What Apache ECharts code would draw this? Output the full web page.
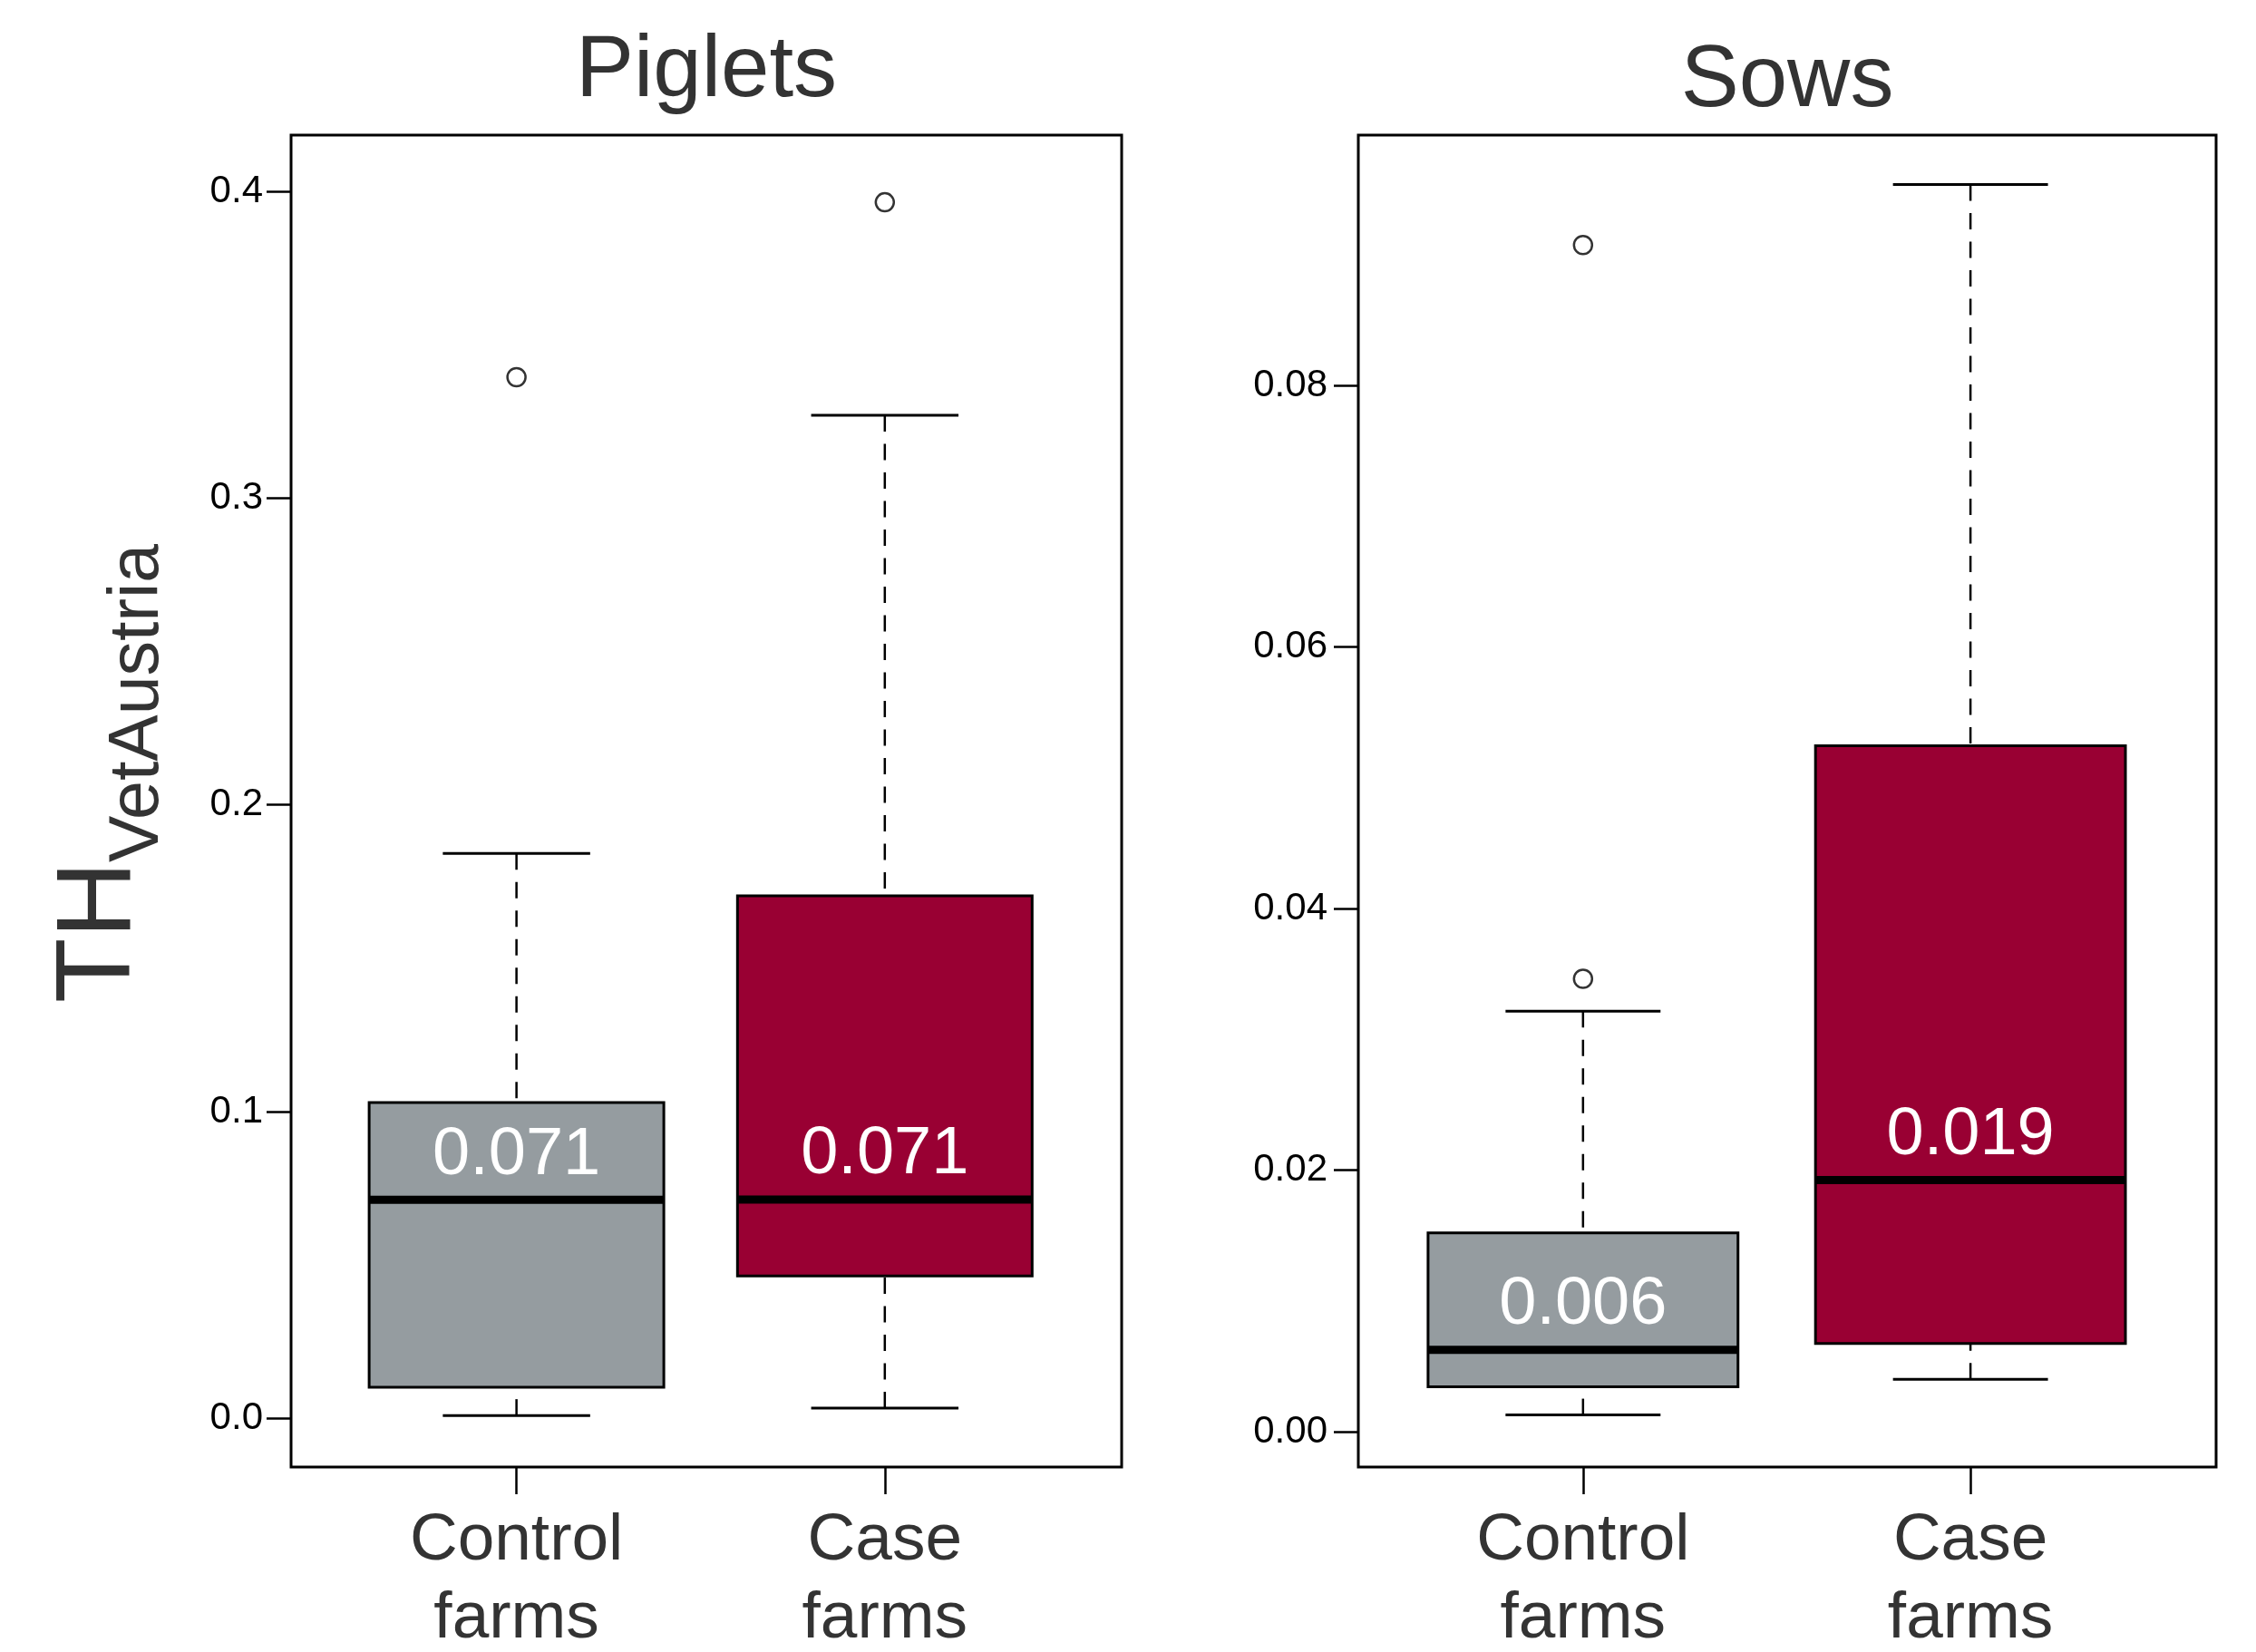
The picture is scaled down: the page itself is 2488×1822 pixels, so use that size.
<!DOCTYPE html>
<html><head><meta charset="utf-8">
<script src="https://cdn.jsdelivr.net/npm/echarts@6/dist/echarts.min.js"></script>
<style>html,body{margin:0;padding:0;background:#fff}#c{width:2488px;height:1822px}</style>
</head><body><div id="c"></div>
<script>
// ---- data ----
const categories = ['Control\nfarms', 'Case\nfarms'];
const categoryPositions = [1, 2];
// [lower whisker, Q1, median, Q3, upper whisker]
const pigletsStats = [
  [0.0010, 0.0102, 0.0713, 0.1030, 0.1842],
  [0.0034, 0.0465, 0.0714, 0.1704, 0.3270]
];
const pigletsOutliers = [[0.3394], [0.3964]];
const pigletsMedianLabels = ['0.071', '0.071'];
const pigletsTicks = [0.0, 0.1, 0.2, 0.3, 0.4];

const sowsStats = [
  [0.00128, 0.00343, 0.00626, 0.01520, 0.03216],
  [0.00400, 0.00675, 0.01925, 0.05246, 0.09537]
];
const sowsOutliers = [[0.03464, 0.09074], []];
const sowsMedianLabels = ['0.006', '0.019'];
const sowsTicks = [0.00, 0.02, 0.04, 0.06, 0.08];

// ---- styles ----
const boxColors = ['#959ca0', '#990033'];
const FONT = '"Liberation Sans", Arial, sans-serif';
const TEXT_DARK = '#333333';

function boxData(stats) {
  return stats.map((s, i) => [categoryPositions[i]].concat(s));
}
function outlierData(outs) {
  const res = [];
  outs.forEach((arr, i) => arr.forEach(v => res.push([categoryPositions[i], v])));
  return res;
}

function makeRenderer(labels) {
  return function (params, api) {
    const x = api.value(0);
    const low = api.coord([x, api.value(1)]);
    const q1 = api.coord([x, api.value(2)]);
    const med = api.coord([x, api.value(3)]);
    const q3 = api.coord([x, api.value(4)]);
    const high = api.coord([x, api.value(5)]);
    const w = api.size([0.8, 0])[0];
    const cx = med[0];
    const dashStyle = { stroke: '#000', lineWidth: 2.5, lineDash: [18, 13.5] };
    const solid = { stroke: '#000', lineWidth: 3 };
    return {
      type: 'group',
      children: [
        { type: 'line', shape: { x1: cx, y1: high[1], x2: cx, y2: q3[1] }, style: dashStyle },
        { type: 'line', shape: { x1: cx, y1: low[1], x2: cx, y2: q1[1] }, style: dashStyle },
        { type: 'line', shape: { x1: cx - w / 4, y1: high[1], x2: cx + w / 4, y2: high[1] }, style: solid },
        { type: 'line', shape: { x1: cx - w / 4, y1: low[1], x2: cx + w / 4, y2: low[1] }, style: solid },
        { type: 'rect', shape: { x: cx - w / 2, y: q3[1], width: w, height: q1[1] - q3[1] },
          style: { fill: boxColors[params.dataIndex], stroke: '#000', lineWidth: 3 } },
        { type: 'line', shape: { x1: cx - w / 2, y1: med[1], x2: cx + w / 2, y2: med[1] },
          style: { stroke: '#000', lineWidth: 9 } },
        { type: 'text', x: cx, y: med[1] - 49,
          style: { text: labels[params.dataIndex], fill: '#ffffff', fontSize: 74, fontFamily: FONT,
                   align: 'center', verticalAlign: 'middle' } }
      ]
    };
  };
}

function xAxisFor(gridIndex, min, max) {
  return {
    type: 'value', gridIndex, min, max,
    axisLine: { show: false, onZero: false },
    splitLine: { show: false },
    axisTick: { show: true, customValues: categoryPositions, length: 30, lineStyle: { color: '#000', width: 2.5 } },
    axisLabel: { show: true, customValues: categoryPositions, margin: 39,
      formatter: v => categories[Math.round(v) - 1] || '',
      fontSize: 73, lineHeight: 86, color: TEXT_DARK, fontFamily: FONT }
  };
}
function yAxisFor(gridIndex, min, max, ticks, digits, margin) {
  return {
    type: 'value', gridIndex, min, max,
    axisLine: { show: false, onZero: false },
    splitLine: { show: false },
    axisTick: { show: true, customValues: ticks, length: 27, lineStyle: { color: '#000', width: 2.5 } },
    axisLabel: { show: true, customValues: ticks, margin,
      formatter: v => Number(v).toFixed(digits),
      fontSize: 42, color: '#000', fontFamily: FONT }
  };
}

const chart = echarts.init(document.getElementById('c'), null, { renderer: 'canvas' });
chart.setOption({
  animation: false,
  backgroundColor: '#ffffff',
  title: [
    { text: 'Piglets', left: 779, top: 80, padding: 0, textAlign: 'center', textVerticalAlign: 'middle',
      textStyle: { fontSize: 96, fontWeight: 'normal', color: TEXT_DARK, fontFamily: FONT } },
    { text: 'Sows', left: 1971, top: 91, padding: 0, textAlign: 'center', textVerticalAlign: 'middle',
      textStyle: { fontSize: 96, fontWeight: 'normal', color: TEXT_DARK, fontFamily: FONT } }
  ],
  grid: [
    { left: 321, top: 149, width: 916, height: 1469, containLabel: false, outerBoundsMode: 'none',
      show: true, borderColor: '#000', borderWidth: 3, backgroundColor: 'transparent' },
    { left: 1498, top: 149, width: 946, height: 1469, containLabel: false, outerBoundsMode: 'none',
      show: true, borderColor: '#000', borderWidth: 3, backgroundColor: 'transparent' }
  ],
  xAxis: [ xAxisFor(0, 0.388, 2.643), xAxisFor(1, 0.420, 2.634) ],
  yAxis: [ yAxisFor(0, -0.0158, 0.4183, pigletsTicks, 1, 31), yAxisFor(1, -0.0027, 0.09915, sowsTicks, 2, 34) ],
  graphic: [
    { type: 'group', x: 151, y: 1106, rotation: Math.PI / 2,
      children: [
        { type: 'text', x: 0, y: -40, style: { text: 'TH', fontSize: 117, fontFamily: FONT, fill: TEXT_DARK, align: 'left', verticalAlign: 'middle' } },
        { type: 'text', x: 155, y: 2, style: { text: 'VetAustria', fontSize: 77, fontFamily: FONT, fill: TEXT_DARK, align: 'left', verticalAlign: 'middle' } }
      ] }
  ],
  series: [
    { type: 'custom', name: 'Piglets', xAxisIndex: 0, yAxisIndex: 0, data: boxData(pigletsStats),
      encode: { x: 0, y: [1, 2, 3, 4, 5] }, renderItem: makeRenderer(pigletsMedianLabels) },
    { type: 'scatter', xAxisIndex: 0, yAxisIndex: 0, data: outlierData(pigletsOutliers),
      symbol: 'circle', symbolSize: 20,
      itemStyle: { color: 'rgba(0,0,0,0)', borderColor: '#000', borderWidth: 2.5 } },
    { type: 'custom', name: 'Sows', xAxisIndex: 1, yAxisIndex: 1, data: boxData(sowsStats),
      encode: { x: 0, y: [1, 2, 3, 4, 5] }, renderItem: makeRenderer(sowsMedianLabels) },
    { type: 'scatter', xAxisIndex: 1, yAxisIndex: 1, data: outlierData(sowsOutliers),
      symbol: 'circle', symbolSize: 20,
      itemStyle: { color: 'rgba(0,0,0,0)', borderColor: '#000', borderWidth: 2.5 } }
  ]
});
</script>
</body></html>
